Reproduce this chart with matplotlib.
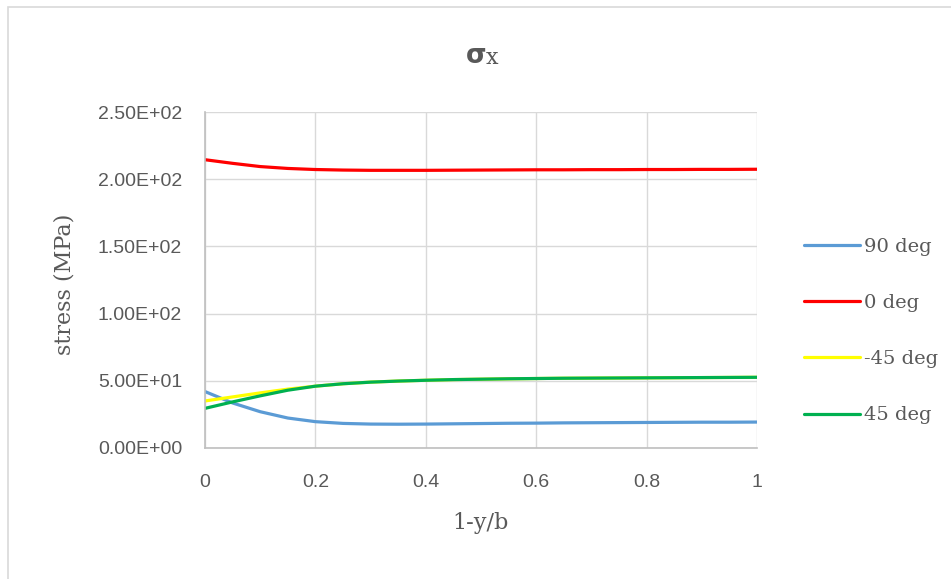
import matplotlib
matplotlib.use("Agg")
import matplotlib.pyplot as plt
from matplotlib.patches import Rectangle

x_vals = [0.00, 0.05, 0.10, 0.15, 0.20, 0.25, 0.30, 0.35, 0.40, 0.45, 0.50,
          0.55, 0.60, 0.65, 0.70, 0.75, 0.80, 0.85, 0.90, 0.95, 1.00]
s_90 = [42, 33.5, 27, 22.3, 19.6, 18.3, 17.8, 17.7, 17.8, 18, 18.2, 18.4,
        18.5, 18.7, 18.8, 18.9, 19, 19.1, 19.2, 19.2, 19.3]
s_0 = [214.5, 211.8, 209.4, 208, 207.2, 206.8, 206.6, 206.6, 206.6, 206.7, 206.8,
       206.9, 207, 207, 207.1, 207.1, 207.2, 207.2, 207.3, 207.3, 207.4]
s_m45 = [35, 38, 41, 43.8, 46, 47.8, 49, 49.8, 50.4, 50.9, 51.2, 51.5,
         51.7, 51.9, 52, 52.1, 52.2, 52.3, 52.4, 52.5, 52.6]
s_45 = [29.5, 34.3, 38.8, 43, 46, 47.8, 49, 49.8, 50.4, 50.9, 51.2, 51.5,
        51.7, 51.9, 52, 52.1, 52.2, 52.3, 52.4, 52.5, 52.6]
labels = ["90 deg", "0 deg", "-45 deg", "45 deg"]
colors = ["#5B9BD5", "#FF0000", "#FFFF00", "#00B050"]
y_ticks = [0, 50, 100, 150, 200, 250]
x_ticks = [0, 0.2, 0.4, 0.6, 0.8, 1]

fig = plt.figure(figsize=(9.51, 5.79), dpi=100)
fig.patches.append(Rectangle((8/951, -0.1), 1.2, 1 - 7/579 + 0.1, transform=fig.transFigure,
                             fill=False, edgecolor="#d9d9d9", linewidth=1.2))
ax = fig.add_axes([205/951, 131/579, 552/951, 336/579])

series = [s_90, s_0, s_m45, s_45]
handles = []
for s, c, l in zip(series, colors, labels):
    h, = ax.plot(x_vals, s, color=c, linewidth=2.3, label=l, solid_capstyle="round")
    handles.append(h)

ax.set_xlim(0, 1)
ax.set_ylim(0, 250)
ax.set_xticks(x_ticks)
ax.set_xticklabels(["0", "0.2", "0.4", "0.6", "0.8", "1"])
ax.set_yticks(y_ticks)
ax.set_yticklabels(["%.2E" % v for v in y_ticks])
ax.grid(True, color="#d9d9d9", linewidth=1)
ax.set_axisbelow(True)
for sp in ["top", "right"]:
    ax.spines[sp].set_visible(False)
for sp in ["left", "bottom"]:
    ax.spines[sp].set_color("#bfbfbf")
    ax.spines[sp].set_linewidth(1.2)
ax.tick_params(length=0, labelsize=14, colors="#595959")
ax.tick_params(axis="y", pad=16.5)
ax.tick_params(axis="x", pad=18.5)
for t in ax.get_xticklabels() + ax.get_yticklabels():
    t.set_family("Liberation Sans")

fig.text(481/951, 1 - 523/579, "1-y/b", fontsize=16, color="#595959",
         family="DejaVu Serif", ha="center", va="center")
fig.text(65/951, 1 - 284/579, "stress (MPa)", fontsize=16, color="#595959",
         family="DejaVu Serif", ha="center", va="center", rotation=90)
fig.text(486/951, 1 - 56/579, "σ", fontsize=19, color="#595959", ha="right", va="center",
         family="DejaVu Sans", fontweight="bold")
fig.text(486/951, 1 - 58/579, "x", fontsize=16, color="#595959", ha="left", va="center",
         family="DejaVu Serif")

fig.legend(handles=handles, labels=labels, loc="center left",
           bbox_to_anchor=(786/951, 1 - 331/579), frameon=False,
           handlelength=2.93, handletextpad=0.2, labelspacing=1.97,
           prop={"family": "DejaVu Serif", "size": 14}, labelcolor="#595959")

fig.savefig("out.png", dpi=100)
